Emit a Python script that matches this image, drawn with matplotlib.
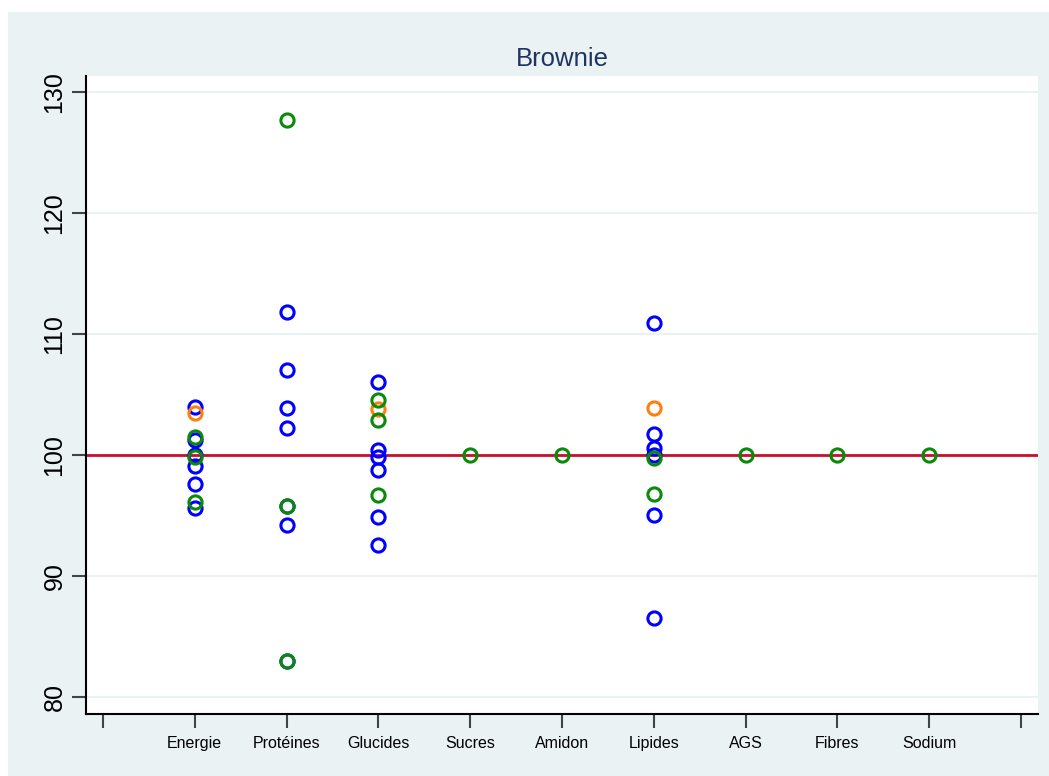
import matplotlib
matplotlib.use("Agg")
import matplotlib.pyplot as plt
from matplotlib.patches import Rectangle

plt.rcParams["font.family"] = ["Liberation Sans", "DejaVu Sans"]

categories = ["Energie", "Protéines", "Glucides", "Sucres", "Amidon",
              "Lipides", "AGS", "Fibres", "Sodium"]

# values per category (index 1..9 on x axis)
blue_vals = {
    "Energie": [104.0, 101.2, 100.0, 99.1, 97.6, 95.6],
    "Protéines": [111.8, 107.0, 103.85, 102.2, 95.8, 94.2, 83.0],
    "Glucides": [106.0, 100.4, 99.8, 98.75, 94.85, 92.6],
    "Lipides": [110.9, 101.7, 100.6, 100.0, 95.0, 86.5],
}
green_vals = {
    "Energie": [101.5, 99.8, 96.1],
    "Protéines": [127.7, 95.8, 83.0],
    "Glucides": [104.5, 102.9, 96.7],
    "Sucres": [100.0],
    "Amidon": [100.0],
    "Lipides": [99.75, 96.8],
    "AGS": [100.0],
    "Fibres": [100.0],
    "Sodium": [100.0],
}
orange_vals = {
    "Energie": [103.5],
    "Glucides": [103.8],
    "Lipides": [103.85],
}

yticks = [80, 90, 100, 110, 120, 130]
ref_line = 100

bg = "#EAF2F3"

fig = plt.figure(figsize=(10.49, 7.76), dpi=100)
fig.patch.set_facecolor("white")
fig.patches.append(Rectangle((8 / 1049, 0), 1, 1 - 12 / 776,
                             transform=fig.transFigure, facecolor=bg,
                             edgecolor="none", zorder=0))

ax = fig.add_axes([86 / 1049, 1 - 714 / 776, (1038 - 86) / 1049, (714 - 76) / 776])
ax.set_zorder(1)
ax.set_facecolor("white")

for y in yticks:
    ax.axhline(y, color=bg, lw=1.5, zorder=1)
ax.axhline(ref_line, color="#C8102E", lw=2, zorder=2)

def draw(vals, color):
    for cat, ys in vals.items():
        x = categories.index(cat) + 1
        ax.plot([x] * len(ys), ys, "o", ms=9.5, mfc="none", mec=color,
                mew=2.2, zorder=3)

draw(blue_vals, "#0000FF")
draw(orange_vals, "#FF7F0E")
draw(green_vals, "#0A8A0A")

ax.set_xlim(-0.185, 10.185)
ax.set_ylim(78.6, 131.3)
ax.set_xticks(range(0, 11))
ax.set_xticklabels([""] + categories + [""], fontsize=11.5)
ax.set_yticks(yticks)
ax.set_yticklabels([str(v) for v in yticks], fontsize=18, rotation=90, va="center")
ax.tick_params(axis="both", length=10, width=1.5, color="#444444")
ax.tick_params(axis="x", pad=6)
ax.tick_params(axis="y", pad=4)

ax.spines["top"].set_visible(False)
ax.spines["right"].set_visible(False)
ax.spines["left"].set_linewidth(1.5)
ax.spines["bottom"].set_linewidth(1.5)

fig.text(562 / 1049, 1 - 59 / 776, "Brownie", ha="center", va="center",
         fontsize=18.5, color="#1F3461", zorder=2)

fig.savefig("out.png", dpi=100)
